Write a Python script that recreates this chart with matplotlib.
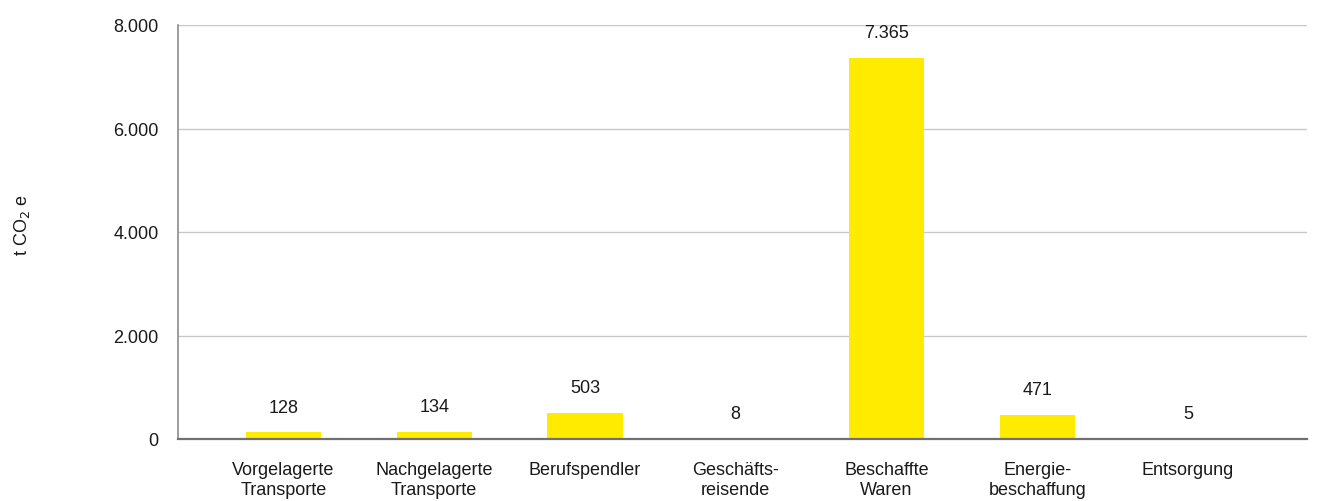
#!/usr/bin/env python3
import matplotlib
matplotlib.use('Agg')
import matplotlib.pyplot as plt
import matplotlib.ticker as mtick

categories = ['Vorgelagerte\nTransporte', 'Nachgelagerte\nTransporte', 'Berufspendler',
              'Geschäfts-\nreisende', 'Beschaffte\nWaren', 'Energie-\nbeschaffung', 'Entsorgung']
values = [128, 134, 503, 8, 7365, 471, 5]
yticks = [0, 2000, 4000, 6000, 8000]

plt.rcParams['font.family'] = ['Liberation Sans Narrow', 'Liberation Sans', 'DejaVu Sans']


def de_fmt(v, pos=None):
    return '{:,.0f}'.format(v).replace(',', '.')


fig = plt.figure(figsize=(13.19, 5.02), dpi=100)
ax = fig.add_axes([178/1319, 62/502, (1307-178)/1319, (440-26)/502])

x = list(range(len(categories)))
ax.bar(x, values, width=0.5, color='#ffeb00', zorder=3)

for xi, v in zip(x, values):
    ax.annotate(de_fmt(v), (xi, v), xytext=(0, 12), textcoords='offset points',
                ha='center', va='bottom', fontsize=13, color='#1a1a1a')

ax.set_xlim(-0.70, 6.79)
ax.set_ylim(0, 8000)
ax.set_yticks(yticks)
ax.yaxis.set_major_formatter(mtick.FuncFormatter(de_fmt))
ax.set_xticks(x)
ax.set_xticklabels(categories)
ax.tick_params(axis='both', length=0, labelsize=13, colors='#1a1a1a')
ax.tick_params(axis='y', pad=14)
ax.tick_params(axis='x', pad=16)

ax.grid(axis='y', color='#c8c8c8', linewidth=1, zorder=0)
ax.spines['top'].set_visible(False)
ax.spines['right'].set_visible(False)
ax.spines['left'].set_color('#8c8c8c')
ax.spines['left'].set_linewidth(1.2)
ax.spines['bottom'].set_color('#707070')
ax.spines['bottom'].set_linewidth(1.6)
ax.spines['bottom'].set_zorder(4)

fig.text(22/1319, 1 - 225/502, 't CO$_2$ e', rotation=90, ha='center', va='center',
         fontsize=13, color='#1a1a1a')

fig.savefig('out.png', dpi=100)
